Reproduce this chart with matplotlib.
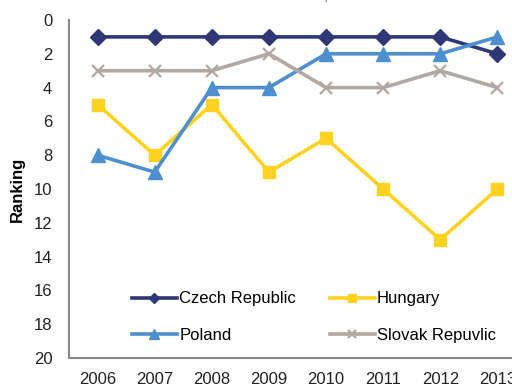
import matplotlib
matplotlib.use("Agg")
import matplotlib.pyplot as plt

years = ["2006", "2007", "2008", "2009", "2010", "2011", "2012", "2013"]
czech = [1, 1, 1, 1, 1, 1, 1, 2]
hungary = [5, 8, 5, 9, 7, 10, 13, 10]
poland = [8, 9, 4, 4, 2, 2, 2, 1]
slovak = [3, 3, 3, 2, 4, 4, 3, 4]

plt.rcParams['font.family'] = ['Liberation Sans', 'DejaVu Sans']

fig = plt.figure(figsize=(5.12, 3.85), dpi=100)
# axes deliberately runs past the right edge of the figure
ax = fig.add_axes([69/512, 1 - 358/385, 457/512, 338/385])

x = list(range(len(years)))
l1, = ax.plot(x, czech, color='#2E3877', lw=2.6, marker='D', ms=8, label="Czech Republic")
l2, = ax.plot(x, hungary, color='#FFD21F', lw=2.6, marker='s', ms=9, label="Hungary")
l3, = ax.plot(x, poland, color='#4E8FD0', lw=2.6, marker='^', ms=10, label="Poland")
l4, = ax.plot(x, slovak, color='#B3A8A0', lw=2.6, marker='x', ms=9, mew=1.6, label="Slovak Repuvlic")

ax.set_xlim(-0.5, len(years) - 0.5)
ax.set_ylim(20, 0)
ax.set_yticks(range(0, 21, 2))
ax.set_xticks(x)
ax.set_xticklabels(years)
ax.tick_params(length=0, labelsize=12, colors='#222222')
ax.tick_params(axis='y', pad=12)
ax.tick_params(axis='x', pad=10)
for s in ['top', 'right']:
    ax.spines[s].set_visible(False)
for s in ['left', 'bottom']:
    ax.spines[s].set_color('#888888')
    ax.spines[s].set_linewidth(1.5)

ax.set_ylabel("Ranking", fontsize=12, fontweight='bold', labelpad=6)

# row-wise order: Czech, Hungary / Poland, Slovak
ax.legend([l1, l3, l2, l4], [l1.get_label(), l3.get_label(), l2.get_label(), l4.get_label()],
          ncol=2, loc='lower left', bbox_to_anchor=(0.105, 0.0), frameon=False,
          fontsize=12, handlelength=2.7, columnspacing=2.0, labelspacing=1.3,
          handletextpad=0.15, markerscale=0.65)

fig.text(0.55, 1.012, "Institutional Framework, 2006-2013", ha='center', va='center',
         fontsize=12, color='#666666')

fig.savefig("out.png", dpi=100)
